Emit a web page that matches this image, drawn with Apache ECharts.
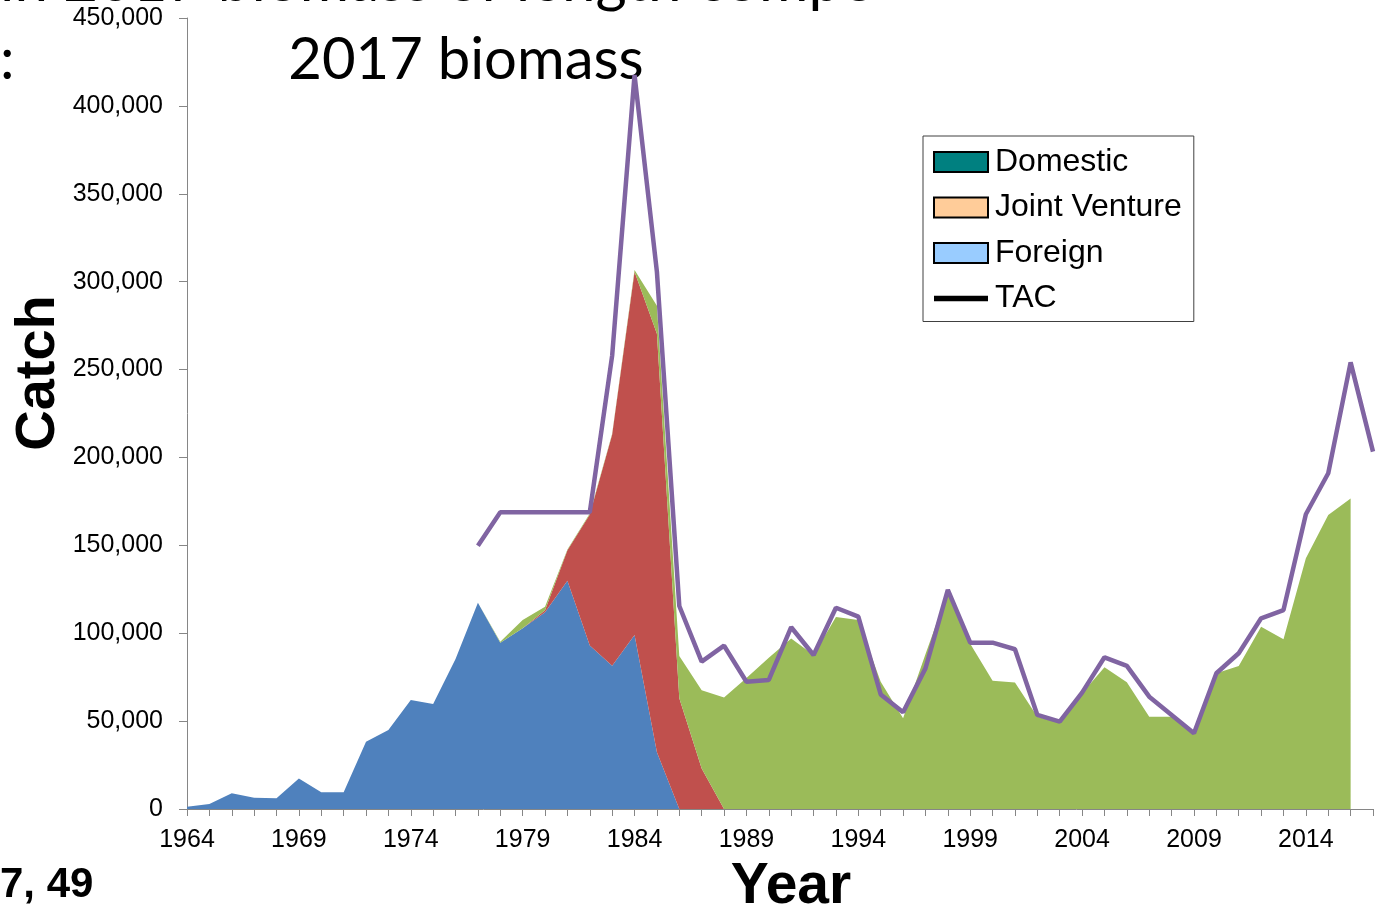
<!DOCTYPE html>
<html>
<head>
<meta charset="utf-8">
<script src="https://cdn.jsdelivr.net/npm/echarts@6/dist/echarts.min.js"></script>
<style>html,body{margin:0;padding:0;background:#fff;}#c{width:1380px;height:908px;}</style>
</head>
<body>
<div id="c"></div>
<script>
var years = [];
for (var y = 1964; y <= 2017; y++) years.push(String(y));

var foreign = [1300,2800,8900,6400,6100,17400,9500,9500,38300,45000,62000,59700,85300,117400,94600,102800,112000,129800,93000,81500,99000,32300,0,0,0,0,0,0,0,0,0,0,0,0,0,0,0,0,0,0,0,0,0,0,0,0,0,0,0,0,0,0,0,0];
var jointVenture = [0,0,0,0,0,0,0,0,0,0,0,0,0,0,0,0,1000,17400,74600,131500,206600,238000,63000,23000,0,0,0,0,0,0,0,0,0,0,0,0,0,0,0,0,0,0,0,0,0,0,0,0,0,0,0,0,0,0];
var domestic = [0,0,0,0,0,0,0,0,0,0,0,0,0,0,500,4700,2000,500,500,500,1000,16000,24000,44600,63500,74500,86000,97000,87600,109200,107500,72400,51600,88000,123600,94000,73000,71900,52500,49100,65800,80600,72100,52500,52500,43100,77200,81400,103700,96500,142600,167200,176700,null];
var tac = [null,null,null,null,null,null,null,null,null,null,null,null,null,149800,168800,168800,168800,168800,168800,258000,417600,305500,115500,83800,92900,72400,73400,103400,87600,114500,109400,65200,55000,80000,124600,94600,94600,90900,53500,49700,66200,86300,81400,63900,53500,43100,77200,88600,108500,113200,167700,191000,254100,203300];

var legendNames = ['Domestic','Joint Venture','Foreign','TAC'];
var yTicks = {min:0, max:450000, interval:50000};

var chart = echarts.init(document.getElementById('c'), null, {renderer:'canvas'});
var axisGray = '#868686';
var lab = 'Liberation Sans, Arial, sans-serif';

function areaSeries(name, data, color) {
  return {
    name: name, type: 'line', stack: 'catch', data: data,
    symbol: 'none', showSymbol: false,
    lineStyle: {width: 0, color: color},
    itemStyle: {color: color},
    areaStyle: {color: color, opacity: 1},
    emphasis: {disabled: true},
    animation: false
  };
}

var option = {
  animation: false,
  grid: {left: 187, right: 7, top: 18, bottom: 99, containLabel: false},
  legend: {
    orient: 'vertical',
    left: 923, top: 136,
    padding: [10, 12, 7, 10],
    itemGap: 13.5,
    itemWidth: 54, itemHeight: 20,
    borderColor: '#404040', borderWidth: 1,
    backgroundColor: '#fff',
    selectedMode: false,
    textStyle: {fontFamily: lab, fontSize: 32, color: '#000', lineHeight: 32, padding: [0, 0, 0, 2]},
    data: [
      {name: legendNames[0], icon: 'rect', itemStyle: {color: '#008080', borderColor: '#000', borderWidth: 2}},
      {name: legendNames[1], icon: 'rect', itemStyle: {color: '#FFCC99', borderColor: '#000', borderWidth: 2}},
      {name: legendNames[2], icon: 'rect', itemStyle: {color: '#99CCFF', borderColor: '#000', borderWidth: 2}},
      {name: legendNames[3], icon: 'path://M0,0L0,0M-2,7L57,7L57,13L-2,13ZM57,20L57,20', itemStyle: {color: '#000', borderWidth: 0}}
    ]
  },
  xAxis: {
    type: 'category', data: years, boundaryGap: false,
    axisLine: {lineStyle: {color: axisGray, width: 1}},
    axisTick: {show: true, interval: 0, length: 7, inside: false, lineStyle: {color: axisGray}},
    axisLabel: {interval: 4, margin: 19, fontFamily: lab, fontSize: 25, color: '#000'},
    splitLine: {show: false}
  },
  yAxis: {
    type: 'value', min: yTicks.min, max: yTicks.max, interval: yTicks.interval,
    axisLine: {show: true, lineStyle: {color: axisGray, width: 1}},
    axisTick: {show: true, length: 8, lineStyle: {color: axisGray}},
    axisLabel: {margin: 24, fontFamily: lab, fontSize: 25, color: '#000',
      formatter: function (v) { return v === 0 ? '0' : v.toLocaleString('en-US'); }},
    splitLine: {show: false}
  },
  series: [
    areaSeries('Foreign', foreign, '#4F81BD'),
    areaSeries('Joint Venture', jointVenture, '#C0504D'),
    areaSeries('Domestic', domestic, '#9BBB59'),
    {
      name: 'TAC', type: 'line', data: tac, symbol: 'none', showSymbol: false,
      connectNulls: false, z: 5,
      lineStyle: {color: '#8064A2', width: 4.5},
      itemStyle: {color: '#8064A2'},
      emphasis: {disabled: true}
    }
  ],
  graphic: [
    {type: 'text', x: 0, y: -18, style: {text: 'in 2017 biomass of length compo', font: '60px Lato', fill: '#000', textAlign: 'left', textVerticalAlign: 'middle'}},
    {type: 'text', x: 0, y: 60, style: {text: ':', font: '58px Lato', fill: '#000', textAlign: 'left', textVerticalAlign: 'middle'}},
    {type: 'text', x: 466, y: 60, style: {text: '2017 biomass', font: '58px Lato', fill: '#000', textAlign: 'center', textVerticalAlign: 'middle'}},
    {type: 'text', x: 0, y: 885, style: {text: '7, 49', font: 'bold 42px Liberation Sans, Arial', fill: '#000', textAlign: 'left', textVerticalAlign: 'middle'}},
    {type: 'text', x: 791, y: 887, style: {text: 'Year', font: 'bold 57px Liberation Sans, Arial', fill: '#000', textAlign: 'center', textVerticalAlign: 'middle'}},
    {type: 'text', x: 39, y: 373, rotation: Math.PI / 2, style: {text: 'Catch', font: 'bold 56px Liberation Sans, Arial', fill: '#000', textAlign: 'center', textVerticalAlign: 'middle'}}
  ]
};
chart.setOption(option);
</script>
</body>
</html>
